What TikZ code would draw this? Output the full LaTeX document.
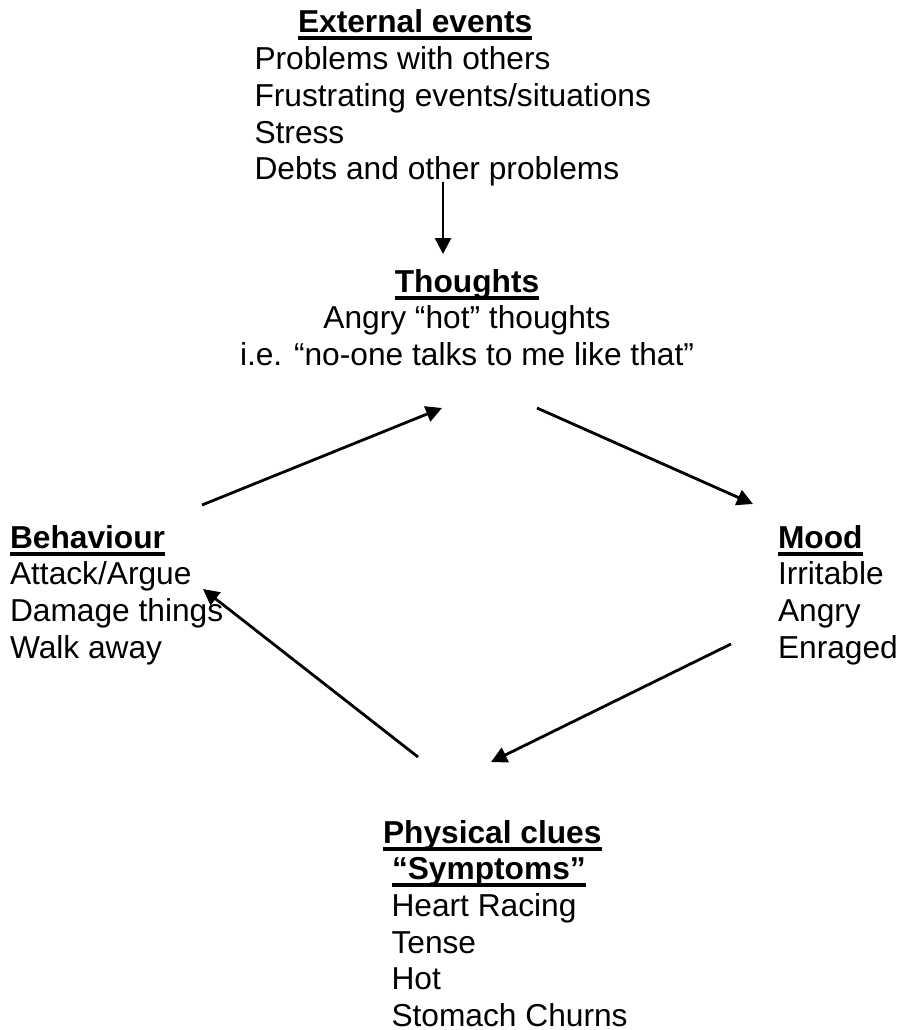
\documentclass[tikz,border=0pt]{standalone}
\usepackage{fontspec}
\setmainfont{Liberation Sans}
\usetikzlibrary{arrows.meta}
\newcommand\ulx[1]{\setbox0\hbox{#1}\rlap{\rule[-7.5pt]{\wd0}{4pt}}\box0}
\begin{document}
\begin{tikzpicture}[x=1pt,y=-1pt,
  txt/.style={inner sep=0pt, outer sep=0pt, font=\fontsize{31.7}{36.7}\selectfont, anchor=base west},
  arr/.style={line width=2.8pt, -{Triangle[length=16pt,width=16pt]}}]
\useasboundingbox (0,0) rectangle (903,1030);

\node[txt] (ext) at (254.5,33) {\begin{tabular}[t]{@{}l@{}}
\hspace*{43.5pt}\ulx{\bfseries External events}\\
Problems with others\\
Frustrating events/situations\\
Stress\\
Debts and other problems\end{tabular}};

\node[txt, anchor=base] (tho) at (467,292) {\begin{tabular}[t]{@{}c@{}}
\ulx{\bfseries Thoughts}\\
Angry “hot” thoughts\\
i.e. “no-one talks to me like that”\end{tabular}};

\node[txt] (beh) at (10,548) {\begin{tabular}[t]{@{}l@{}}
\ulx{\bfseries Behaviour}\\
Attack/Argue\\
Damage things\\
Walk away\end{tabular}};

\node[txt] (mood) at (778,548) {\begin{tabular}[t]{@{}l@{}}
\ulx{\bfseries Mood}\\
Irritable\\
Angry\\
Enraged\end{tabular}};

\node[txt] (phy) at (383,843) {\begin{tabular}[t]{@{}l@{}}
\ulx{\bfseries Physical clues}\\
\hspace*{9pt}\ulx{\bfseries “Symptoms”}\\
\hspace*{8.5pt}Heart Racing\\
\hspace*{8.5pt}Tense\\
\hspace*{8.5pt}Hot\\
\hspace*{8.5pt}Stomach Churns\end{tabular}};

\coordinate (e1) at (443,182);
\coordinate (e2) at (443,254);
\coordinate (b1) at (202,505);
\coordinate (t1) at (442,408);
\coordinate (t2) at (537,408);
\coordinate (m1) at (753,504);
\coordinate (m2) at (731,644);
\coordinate (p1) at (491,762);
\coordinate (p2) at (418,757);
\coordinate (b2) at (203,589);

\draw[arr] (e1) -- (e2);
\draw[arr] (b1) -- (t1);
\draw[arr] (t2) -- (m1);
\draw[arr] (m2) -- (p1);
\draw[arr] (p2) -- (b2);
\end{tikzpicture}
\end{document}
